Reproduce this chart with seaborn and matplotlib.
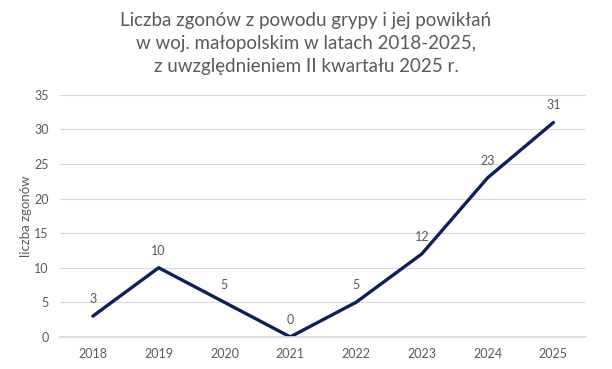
import matplotlib
matplotlib.use("Agg")
import matplotlib.pyplot as plt
import seaborn as sns
import pandas as pd

years = ["2018", "2019", "2020", "2021", "2022", "2023", "2024", "2025"]
deaths = [3, 10, 5, 0, 5, 12, 23, 31]
yticks = [0, 5, 10, 15, 20, 25, 30, 35]

sns.set_theme(style="white")
plt.rcParams['font.family'] = ['Lato', 'DejaVu Sans']

df = pd.DataFrame({"year": years, "deaths": deaths})
fig = plt.figure(figsize=(6.12, 3.69), dpi=100)
ax = fig.add_axes([0.098, 0.087, 0.86, 0.656])

x = list(range(len(years)))
sns.lineplot(x=x, y=df["deaths"], ax=ax, color="#0E1F5B", linewidth=2.4)

gray = "#595959"
for xi, v in zip(x, deaths):
    ax.annotate(str(v), (xi, v), xytext=(0, 8), textcoords="offset points",
                ha="center", va="bottom", fontsize=9, color=gray)

ax.set_xlim(-0.5, len(years) - 0.5)
ax.set_ylim(0, 35)
ax.set_xticks(x)
ax.set_xticklabels(years)
ax.set_yticks(yticks)
ax.tick_params(axis="both", labelsize=9, colors=gray, length=0, pad=8)
ax.yaxis.grid(True, color="#D9D9D9", linewidth=0.8)
ax.xaxis.grid(False)
for s in ["top", "right", "left"]:
    ax.spines[s].set_visible(False)
ax.spines["bottom"].set_color("#D9D9D9")
ax.set_xlabel("")
ax.set_ylabel("liczba zgonów", fontsize=9.5, color=gray, labelpad=2)

fig.text(0.5, 0.968, "Liczba zgonów z powodu grypy i jej powikłań\nw woj. małopolskim w latach 2018-2025,\nz uwzględnieniem II kwartału 2025 r.",
         ha="center", va="top", fontsize=13.5, color=gray, linespacing=1.45)

fig.savefig("out.png", dpi=100)
